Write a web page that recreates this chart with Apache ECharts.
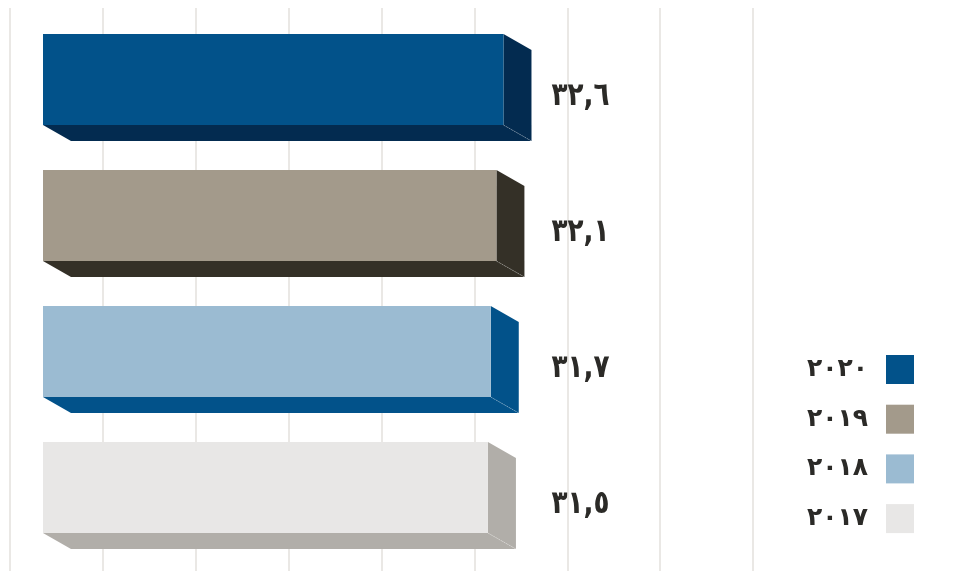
<!DOCTYPE html>
<html>
<head>
<meta charset="utf-8">
<script src="https://cdn.jsdelivr.net/npm/echarts@6/dist/echarts.min.js"></script>
<style>html,body{margin:0;padding:0;background:#fff;}#c{width:955px;height:571px;}</style>
</head>
<body>
<div id="c"></div>
<script>
// Data
const years = ['٢٠٢٠', '٢٠١٩', '٢٠١٨', '٢٠١٧'];
const values = [32.6, 32.1, 31.7, 31.5];
const valueLabels = ['٣٢,٦', '٣٢,١', '٣١,٧', '٣١,٥'];
const gridTicks = [0, 1, 2, 3, 4, 5, 6, 7, 8];

// Styles
const frontColors = ['#02528A', '#A39A8B', '#9BBBD2', '#E8E7E6'];
const depthColors = ['#032B50', '#343027', '#02528A', '#B1AEA9'];
const axisMax = 36;
const DX = 28, DY = 16;
const FONT = '"DejaVu Sans", sans-serif';

const chart = echarts.init(document.getElementById('c'), null, {renderer: 'canvas'});

function renderItem(params, api) {
  const idx = api.value(1);
  const v = api.value(0);
  const p0 = api.coord([0, idx]);
  const p1 = api.coord([v, idx]);
  const pEnd = api.coord([axisMax, idx]);
  const band = api.size([0, 1])[1];
  const h = band * 0.67;
  const x0 = p0[0], x1 = p1[0];
  const yTop = p0[1] - h / 2, yBot = yTop + h;
  const si = params.seriesIndex;
  return {
    type: 'group',
    children: [
      {
        type: 'polygon',
        shape: {points: [[x0, yBot], [x1, yBot], [x1 + DX, yBot + DY], [x0 + DX, yBot + DY]]},
        style: {fill: depthColors[si]}
      },
      {
        type: 'polygon',
        shape: {points: [[x1, yTop], [x1 + DX, yTop + DY], [x1 + DX, yBot + DY], [x1, yBot]]},
        style: {fill: depthColors[si]}
      },
      {
        type: 'line',
        shape: {x1: x1, y1: yBot, x2: x1 + DX, y2: yBot + DY},
        style: {stroke: 'rgba(255,255,255,0.35)', lineWidth: 0.7, lineDash: [2, 1]}
      },
      {
        type: 'rect',
        shape: {x: x0, y: yTop, width: x1 - x0, height: h},
        style: {fill: frontColors[si]}
      },
      {
        type: 'text',
        x: pEnd[0], y: p0[1] + 17,
        scaleX: 0.82, scaleY: 1,
        style: {
          x: 0, y: 0,
          text: valueLabels[si],
          fill: '#2B2A27',
          font: 'bold 32px ' + FONT,
          align: 'left', verticalAlign: 'middle'
        }
      }
    ]
  };
}

const series = years.map((y, i) => ({
  name: y,
  type: 'custom',
  xAxisIndex: 0,
  yAxisIndex: 0,
  renderItem: renderItem,
  itemStyle: {color: frontColors[i]},
  data: [[values[i], i]],
  z: 3
}));

chart.setOption({
  animation: false,
  backgroundColor: '#ffffff',
  grid: [
    {left: 43, width: 508.5, top: 11.5, bottom: 15.5},
    {left: 10, right: 202, top: 8, bottom: 0}
  ],
  xAxis: [
    {type: 'value', gridIndex: 0, min: 0, max: axisMax,
     axisLine: {show: false}, axisTick: {show: false}, axisLabel: {show: false}, splitLine: {show: false}},
    {type: 'value', gridIndex: 1, min: gridTicks[0], max: gridTicks[gridTicks.length - 1], interval: 1,
     axisLine: {show: false}, axisTick: {show: false}, axisLabel: {show: false},
     splitLine: {show: true, lineStyle: {color: '#E3E0DC', width: 1.5}}}
  ],
  yAxis: [
    {type: 'category', gridIndex: 0, data: years, inverse: true,
     axisLine: {show: false}, axisTick: {show: false}, axisLabel: {show: false}, splitLine: {show: false}},
    {type: 'value', gridIndex: 1, show: false}
  ],
  legend: {
    orient: 'vertical',
    right: 36,
    top: 350,
    align: 'right',
    icon: 'rect',
    itemWidth: 28,
    itemHeight: 29,
    itemGap: 20.7,
    textStyle: {fontFamily: FONT, fontSize: 25, fontWeight: 'bold', color: '#2B2A27', padding: [0, 13, 0, 0]},
    data: years
  },
  series: series
});
</script>
</body>
</html>
